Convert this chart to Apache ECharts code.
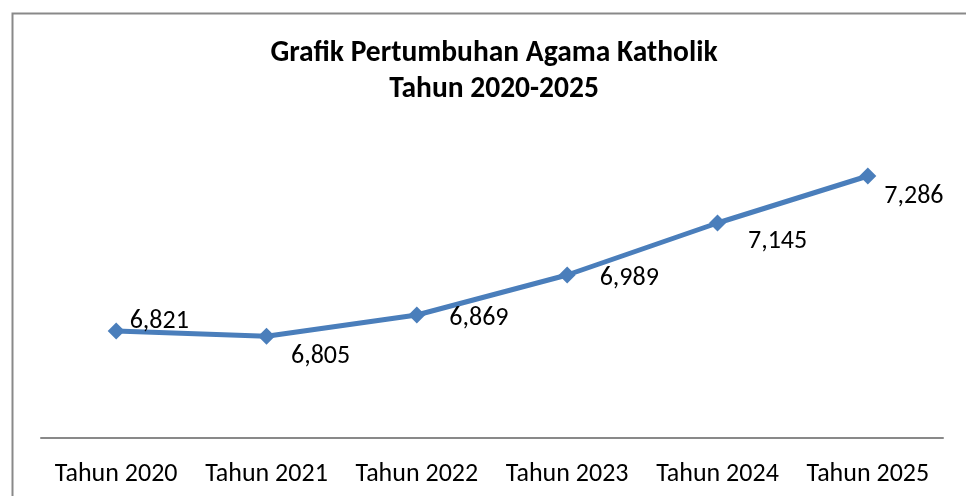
<!DOCTYPE html>
<html><head><meta charset="utf-8">
<script src="https://cdn.jsdelivr.net/npm/echarts@6/dist/echarts.min.js"></script>
<style>html,body{margin:0;padding:0;background:#fff}#c{width:966px;height:496px}</style>
</head><body><div id="c"></div>
<script>
const categories = ['Tahun 2020','Tahun 2021','Tahun 2022','Tahun 2023','Tahun 2024','Tahun 2025'];
const values = [6821, 6805, 6869, 6989, 7145, 7286];
const titleLines = ['Grafik Pertumbuhan Agama Katholik', 'Tahun 2020-2025'];
const labelOffsets = [[0,-10],[11,20],[19,3],[19,3],[17,18],[3,20]];

const FONT = 'Carlito, Calibri, Lato, sans-serif';
const chart = echarts.init(document.getElementById('c'), null, {renderer:'canvas'});
chart.setOption({
  animation:false,
  backgroundColor:'#fff',
  title:{text:titleLines.join('\n'), left:489, textAlign:'center', top:31,
    textStyle:{fontFamily:FONT, fontWeight:'bold', fontSize:29.5, lineHeight:36, color:'#000'}},
  graphic:[{type:'rect', shape:{x:12.5,y:13.5,width:1200,height:800},
    style:{fill:'none', stroke:'#898989', lineWidth:2}}],
  grid:{left:41, right:23, top:138, bottom:58},
  xAxis:{type:'category', data:categories, boundaryGap:true,
    axisLine:{lineStyle:{color:'#898989', width:2}},
    axisTick:{show:false},
    axisLabel:{interval:0, fontFamily:FONT, fontSize:26, color:'#000', margin:23}},
  yAxis:{type:'value', min:6500, max:7400, show:false, splitLine:{show:false}},
  series:[{type:'line', data:values.map((v,i)=>({value:v,
      label:{offset:labelOffsets[i]}})),
    symbol:'diamond', symbolSize:17,
    lineStyle:{color:'#4A7EBB', width:5},
    itemStyle:{color:'#4A7EBB'},
    label:{show:true, position:'right', distance:5, fontFamily:FONT, fontSize:26, color:'#000',
      formatter:p=>p.value.toLocaleString('en-US')}}]
});
</script></body></html>
